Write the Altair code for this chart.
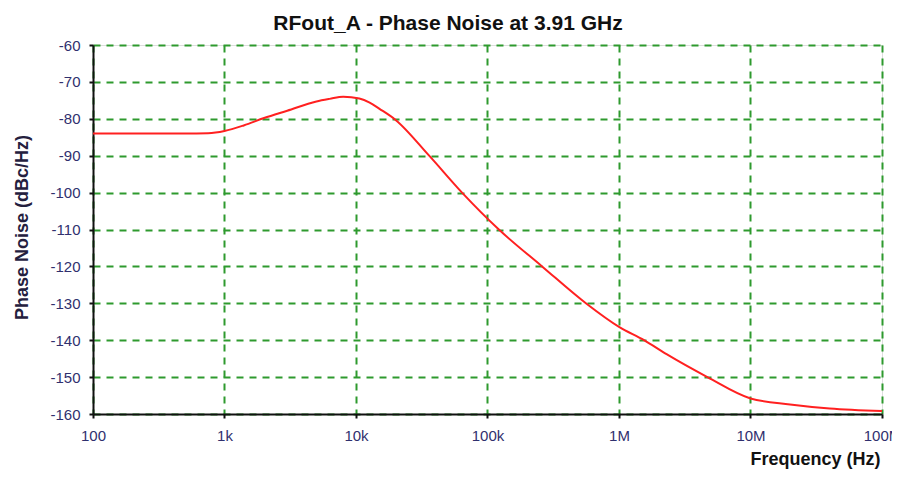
import altair as alt
import pandas as pd

# Data
freq_hz = [100, 500, 750, 1000, 1400, 2000, 3000, 5000, 6300, 8000, 10600,
           12700, 15100, 20000, 36000, 64000, 122000, 260000, 560000,
           1000000, 1550000, 2300000, 4700000, 10000000, 20000000,
           40000000, 100000000]
phase_noise = [-84, -84, -83.9, -83.3, -81.8, -79.8, -77.8, -75.3, -74.6, -74.0, -74.5,
               -75.6, -77.3, -80.3, -90, -100, -110, -120, -130,
               -136.4, -140, -143.8, -150, -155.8, -157.4,
               -158.5, -159.2]

x_ticks = [100, 1000, 10000, 100000, 1000000, 10000000, 100000000]
x_tick_labels = ["100", "1k", "10k", "100k", "1M", "10M", "100M"]
y_ticks = [-60, -70, -80, -90, -100, -110, -120, -130, -140, -150, -160]
title_text = ["RFout_A - Phase Noise at 3.91 GHz"]

df = pd.DataFrame({"f": freq_hz, "pn": phase_noise})

label_expr = " : ".join(
    [f"datum.value == {v} ? '{l}'" for v, l in zip(x_ticks, x_tick_labels)]
) + " : ''"

FONT = "Liberation Sans"
GRID = "#2e9a2e"
LABEL = "#30306e"

line = alt.Chart(df).mark_line(
    color="#ff2020", strokeWidth=2, interpolate="monotone", clip=True
).encode(
    x=alt.X(
        "f:Q",
        scale=alt.Scale(type="log", domain=[100, 100000000], nice=False),
        axis=alt.Axis(
            values=x_ticks,
            labelExpr=label_expr,
            title="Frequency (Hz)",
            titleFont=FONT, titleFontSize=18, titleFontWeight="bold", titleColor="#111111",
            titleAnchor="end", titleAlign="right", titleX=787, titleY=50,
            titleBaseline="alphabetic",
            labelFont=FONT, labelFontSize=15, labelColor=LABEL,
            labelPadding=10, labelFlush=False, labelOverlap=False,
            tickSize=4, tickWidth=2, tickColor="#111111",
            domainColor="#111111", domainWidth=2,
            grid=True, gridColor=GRID, gridDash=[7, 6], gridWidth=2,
        ),
    ),
    y=alt.Y(
        "pn:Q",
        scale=alt.Scale(domain=[-160, -60], nice=False, zero=False),
        axis=alt.Axis(
            values=y_ticks,
            labelExpr="'' + datum.value",
            title="Phase Noise (dBc/Hz)",
            titleFont=FONT, titleFontSize=18, titleFontWeight="bold", titleColor="#24203e",
            titleAngle=270, titleAlign="center", titleBaseline="middle",
            titleX=-71, titleY=182,
            labelFont=FONT, labelFontSize=15, labelColor=LABEL,
            labelPadding=9, labelFlush=False, labelOverlap=False,
            tickSize=4, tickWidth=2, tickColor="#111111",
            domainColor="#111111", domainWidth=2,
            grid=True, gridColor=GRID, gridDash=[7, 6], gridWidth=2,
        ),
    ),
)

title = alt.Chart(pd.DataFrame({"t": title_text})).mark_text(
    font=FONT, fontSize=21, fontWeight="bold", color="#111111",
    align="center", baseline="alphabetic",
).encode(
    text="t:N",
    x=alt.value(355),
    y=alt.value(-15),
)

chart = alt.layer(line, title).properties(
    width=789,
    height=369,
    autosize=alt.AutoSizeParams(type="none"),
    padding={"left": 85, "top": 37, "right": 10, "bottom": 61},
).configure_view(stroke="transparent").configure(background="white")

chart.save("out.html", embed_options={"renderer": "svg", "actions": False})
